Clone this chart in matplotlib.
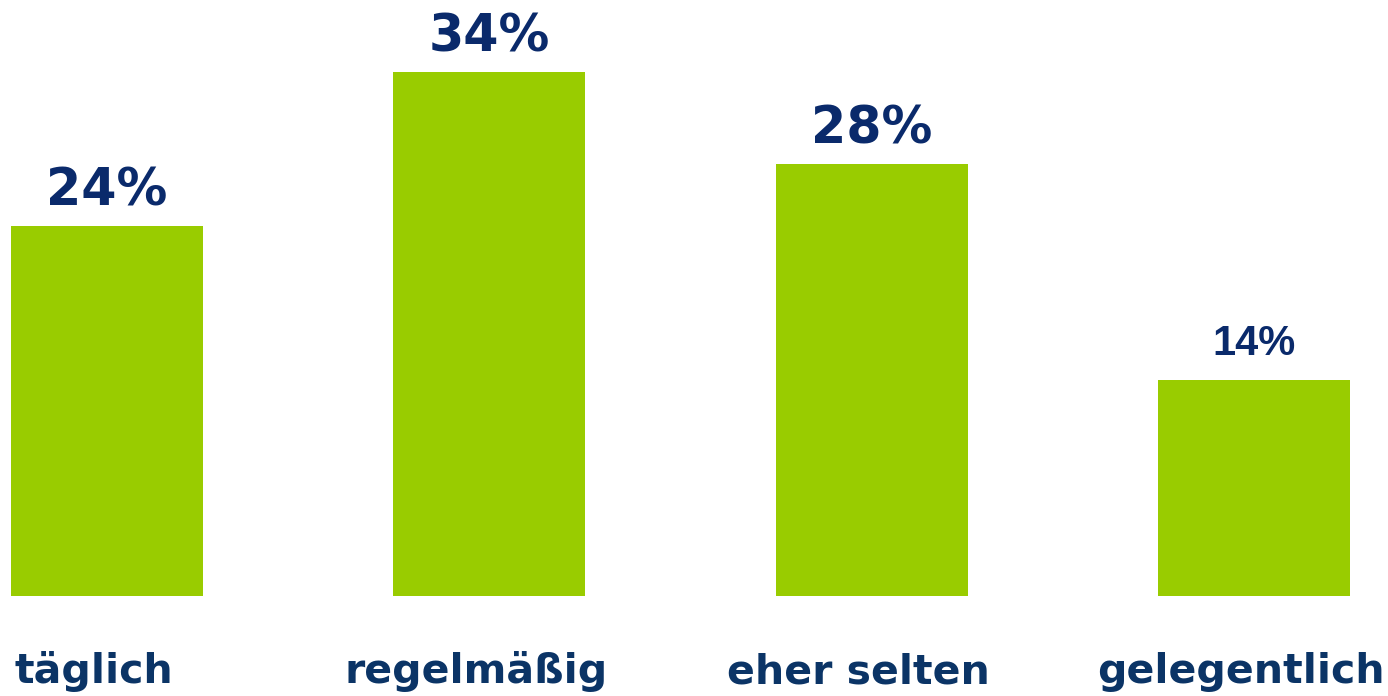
import matplotlib

matplotlib.use("Agg")

import matplotlib.pyplot as plt
import numpy as np

CATEGORIES = ["täglich", "regelmäßig", "eher selten", "gelegentlich"]
VALUES = [24, 34, 28, 14]
LABELS = ["24%", "34%", "28%", "14%"]

BAR_COLOR = "#99cc00"
VALUE_COLOR = "#0a2a6b"
CAT_COLOR = "#0b3466"

fig = plt.figure(figsize=(13.88, 6.96), dpi=100)
ax = fig.add_axes([0, 100 / 696, 1, 596 / 696])

x = np.arange(len(CATEGORIES))
bars = ax.bar(x, VALUES, width=0.502, color=BAR_COLOR)

ax.set_xlim(-0.28, 3.351)
ax.set_ylim(0, 38.67)
ax.axis("off")

for i, (bar, label) in enumerate(zip(bars, LABELS)):
    # the smallest value label is set in a lighter, narrower face
    if i == 3:
        kw = dict(fontsize=30, family="Liberation Sans", fontweight="bold")
        offset = 18
    else:
        kw = dict(fontsize=36.5, family="DejaVu Sans", fontweight="bold")
        offset = 15
    ax.annotate(
        label,
        (bar.get_x() + bar.get_width() / 2, bar.get_height()),
        xytext=(0, offset),
        textcoords="offset points",
        ha="center",
        va="baseline",
        color=VALUE_COLOR,
        **kw,
    )

for xi, cat in zip(x, CATEGORIES):
    ax.text(
        xi - 0.035,
        -5.65,
        cat,
        ha="center",
        va="baseline",
        fontsize=29.5,
        fontweight="bold",
        family="DejaVu Sans",
        color=CAT_COLOR,
        clip_on=False,
    )

fig.savefig("out.png", dpi=100)
